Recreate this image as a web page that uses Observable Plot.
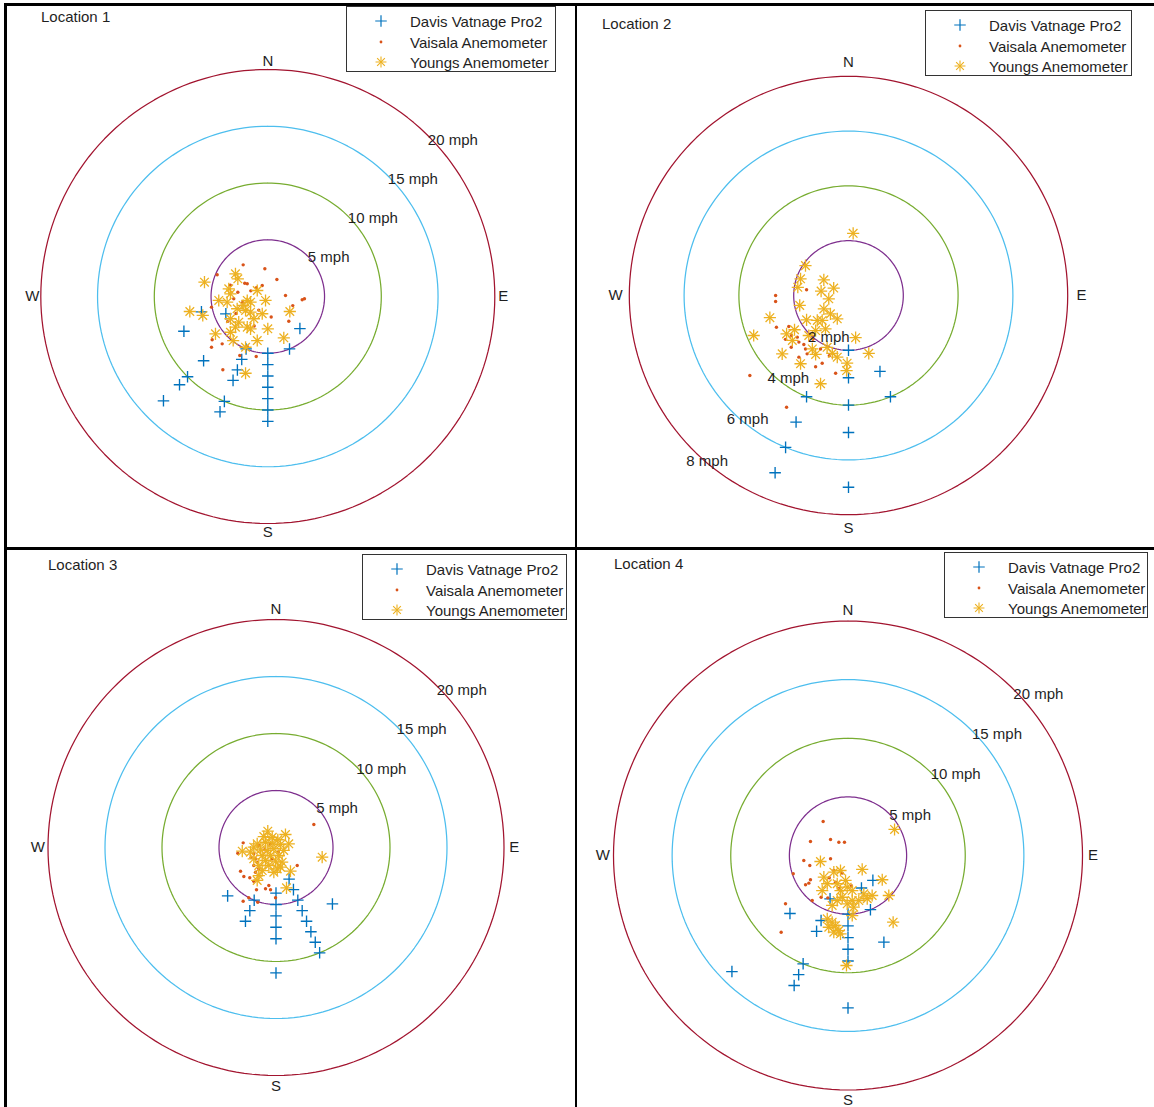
<!DOCTYPE html>
<html>
<head>
<meta charset="utf-8">
<script src="https://cdn.jsdelivr.net/npm/d3@7"></script>
<script src="https://cdn.jsdelivr.net/npm/@observablehq/plot@0.6"></script>
<style>
  body { margin: 0; background: #fff; font-family: "Liberation Sans", Arial, Helvetica, sans-serif; }
  #page { position: relative; width: 1154px; height: 1107px; overflow: hidden; background: #fff; }
  .rule { position: absolute; background: #000; }
  .panel { position: absolute; }
  .panel svg { display: block; }
  .title { position: absolute; font-size: 15px; color: #1f1f1f; line-height: 1; transform: translateY(-50%); white-space: nowrap; }
  .legend { position: absolute; border: 1px solid #333; background: #fff; box-sizing: border-box; }
  .legend .mk { position: absolute; width: 20px; height: 20px; transform: translate(-50%, -50%); }
  .legend .lt { position: absolute; font-size: 15px; color: #1f1f1f; line-height: 1; transform: translateY(-50%); white-space: nowrap; }
</style>
</head>
<body>
<div id="page"></div>
<script>
// ---------------- DATA ----------------
// Davis Vantage Pro2: [direction (deg from N), speed (mph)]
// Vaisala / Youngs: [east component (mph), north component (mph)]
const seriesNames = ["Davis Vatnage Pro2", "Vaisala Anemometer", "Youngs Anemometer"];
const panelTitles = ["Location 1", "Location 2", "Location 3", "Location 4"];
const ringsLoc1 = [5, 10, 15, 20];
const ringsLoc2 = [2, 4, 6, 8];
const ringsLoc3 = [5, 10, 15, 20];
const ringsLoc4 = [5, 10, 15, 20];
const compassLabels = ["N", "E", "S", "W"];

const loc1Davis = [[180,5],[180,6],[180,7],[180,8],[180,9],[180,10],[180,11],
  [202.5,5],[202.5,6],[202.5,7],[202.5,8],[202.5,10],[202.5,11],
  [225,8],[225,10],[225,11],[225,13],[247.5,4],[247.5,8],[257,6],[135,4],[157.5,5]];
const loc1Vaisala = [[-2.17,2.79],[-0.26,2.44],[-4.46,1.91],[-2.03,1.17],[-1.81,1.12],[-0.49,0.97],[-1.0,0.77],
  [1.56,0.09],[3.03,-0.29],[3.23,-0.2],[-2.64,0.38],[-4.96,-0.94],[-3.0,-0.2],[1.85,-2.18],[-3.52,-2.18],
  [-4.9,-3.81],[-4.02,-4.17],[-4.96,-4.47],[-2.47,-5.2],[-1.02,-5.29],[-3.96,-6.46],[-1.81,-4.41],
  [-1.5,0.5],[-2.2,-0.5],[-0.8,-1.2],[-2.8,-1.5],[0.3,-1.8],[-1.2,-2.6],[-3.3,1.0],[0.8,1.5],[2.2,-0.8]];
const loc1Youngs = [[-5.58,1.26],[-2.85,2.0],[-2.64,1.56],[-3.44,0.68],[-3.29,0.24],[-0.93,0.53],[-4.32,-0.35],
  [-3.58,-0.5],[-1.81,-0.35],[-1.52,-0.5],[-0.2,-0.35],[-2.17,-0.79],[-2.7,-1.08],[-1.96,-1.23],[-1.52,-1.38],
  [-6.87,-1.32],[-5.73,-1.67],[1.94,-1.32],[-0.49,-1.52],[-1.23,-1.96],[-3.29,-1.96],[-2.56,-2.26],[-2.85,-2.7],
  [-1.81,-2.7],[-1.52,-2.85],[0,-2.85],[-4.61,-3.29],[-3.29,-3.15],[-0.93,-3.88],[1.41,-3.64],[-3.05,-3.88],
  [-1.96,-4.47],[-1.96,-6.76]];

const loc2Davis = [[180,2],[180,3],[180,4],[180,5],[180,7],[157.5,3],[157.5,4],
  [202.5,4],[202.5,5],[202.5,6],[202.5,7]];
const loc2Vaisala = [[-1.53,0.21],[-2.66,0],[-2.66,-0.22],[-2.63,-1.16],[-2.18,-1.13],[-2.08,-1.46],[-1.87,-1.52],
  [-1.81,-1.7],[-1.63,-1.79],[-1.57,-1.95],[-2.09,-1.89],[-1.81,-2.25],[-1.51,-2.13],[-1.02,-1.95],[-0.96,-2.47],
  [-0.47,-2.84],[-3.6,-2.92],[-2.26,-4.08],[-1.3,-1.6],[-2.3,-1.6],[-1.2,-2.6],[-0.7,-2.2]];
const loc2Youngs = [[0.17,2.27],[-1.57,1.09],[-1.75,0.61],[-1.85,0.3],[-0.9,0.57],[-1.0,0.16],[-0.54,0.27],
  [-0.72,-0.12],[-1.78,-0.36],[-0.9,-0.49],[-0.66,-0.67],[-0.41,-0.85],[-0.96,-0.91],[-1.14,-0.91],[-2.87,-0.81],
  [-1.53,-0.89],[-3.46,-1.46],[-2.26,-1.4],[-1.97,-1.25],[-1.45,-1.46],[-1.2,-1.28],[-0.84,-1.22],[0.26,-1.54],
  [0.74,-2.11],[-2.42,-2.13],[-1.2,-2.15],[-0.59,-2.11],[-0.41,-2.25],[-1.75,-2.49],[-0.05,-2.47],[-0.07,-2.74],
  [-1.02,-3.22],[-2.05,-1.64],[-1.32,-1.95],[-0.78,-1.89]];

const loc3Davis = [[225,6],[202.5,5],[202.5,6],[202.5,7],[180,4],[180,5],[180,6],[180,7],[180,8],[180,11],
  [157.5,3],[157.5,4],[157.5,5],[157.5,6],[157.5,7],[157.5,8],[157.5,9],[157.5,10],[135,7]];
const loc3Vaisala = [[3.32,2.02],[-2.88,0.41],[-3.35,-0.5],[-2.18,-0.85],[-1.95,-0.55],[-1.8,-0.99],[-1.65,-1.29],
  [-1.95,-1.58],[-0.92,-1.14],[-1.51,-1.87],[-1.8,-2.17],[-3.11,-2.08],[-2.82,-2.54],[-2.3,-2.66],[-1.95,-2.96],
  [1.86,-1.58],[-1.71,-3.71],[-0.92,-3.62],[-0.63,-3.33],[-0.48,-3.71],[-0.04,-4.41],[-2.88,-4.71],[-1.6,-4.8],
  [-2.39,-4.41],[-1.0,-0.2],[-0.5,0.3],[-1.5,0.2],[0.2,-0.4],[-0.3,-1.0]];
const loc3Youngs = [[-0.72,1.43],[0.83,1.14],[0.16,0.68],[-1.65,0.32],[-0.92,0.46],[-0.33,0.38],[0.39,0.26],
  [-1.95,0.03],[-2.96,-0.32],[-1.36,-0.2],[-0.77,-0.26],[-0.19,-0.11],[0.68,-0.26],[-1.21,-0.7],[-0.48,-0.7],
  [0.25,-0.7],[-0.92,-1.14],[-0.04,-1.2],[0.54,-1.29],[-1.51,-1.58],[-0.63,-1.58],[0.11,-1.87],[1.27,-2.08],
  [-1.51,-2.46],[-1.65,-2.89],[0.92,-3.54],[4.05,-0.85],[-0.33,0.9],[-1.07,0.96],[1.12,0.32],[-2.24,-0.41],
  [-1.95,-0.99],[0.39,-1.73],[-0.19,-2.17],[-1.21,-2.02]];

const loc4Davis = [[135,3],[157.5,3],[157.5,5],[202.5,4],[225,7],[202.5,6],[202.5,7],
  [180,5],[180,6],[180,7],[180,8],[180,9],[180,13],[157.5,8],[202.5,10],[202.5,11],[202.5,12],[225,14]];
const loc4Vaisala = [[-2.12,2.9],[-3.2,1.19],[-1.49,1.36],[-0.78,1.13],[-0.3,1.13],[-3.77,-0.43],[-3.26,-0.85],
  [-1.49,-0.28],[-1.21,-1.28],[-3.2,-2.07],[-3.62,-2.5],[-3.34,-2.36],[-4.67,-1.56],[-2.29,-3.56],[-1.72,-3.61],
  [-5.33,-4.12],[-5.7,-6.54],[-3.05,-3.84],[-1.07,-2.28],[-0.8,-2.8],[-1.6,-1.9],[-0.5,-1.5],[0.3,-2.6]];
const loc4Youngs = [[3.97,2.22],[-2.35,-0.51],[1.21,-1.19],[2.92,-2.07],[-0.64,-1.28],[-1.21,-1.42],[-2.06,-1.85],
  [-0.21,-2.13],[-1.77,-2.41],[-0.92,-2.41],[-0.07,-2.7],[-2.2,-2.99],[-0.64,-2.99],[0.36,-2.99],[1.35,-3.27],
  [2.06,-3.41],[3.48,-3.41],[-0.49,-3.56],[0.36,-3.84],[0.92,-3.84],[1.64,-3.69],[-0.92,-3.84],[-0.07,-4.12],
  [0.49,-4.41],[-1.35,-4.26],[-1.77,-5.4],[-1.35,-5.69],[-1.07,-5.97],[-1.64,-6.12],[-0.78,-6.4],[-0.64,-6.68],
  [-1.21,-6.54],[0.36,-5.12],[3.85,-5.69],[-0.13,-9.38]];

// ---------------- STYLE / LAYOUT ----------------
const BLUE = "#0072BD", ORANGE = "#D95319", YELLOW = "#EDB120";
const RING_COLORS = ["#7E2F8E", "#77AC30", "#4DBEEE", "#A2142F"];
const TEXT = "#1f1f1f";
const FONT = '"Liberation Sans", Arial, Helvetica, sans-serif';

const panels = [
  { title: panelTitles[0], davis: loc1Davis, vaisala: loc1Vaisala, youngs: loc1Youngs, rings: ringsLoc1,
    cell: {left: 6, top: 5, width: 569, height: 542}, cx: 267.3, cy: 296, s: 11.35,
    lab: [0.705, 0.69], compassR: 20.75,
    titlePos: [41, 16], legend: {left: 346, top: 6, width: 210, height: 66} },
  { title: panelTitles[1], davis: loc2Davis, vaisala: loc2Vaisala, youngs: loc2Youngs, rings: ringsLoc2,
    cell: {left: 578, top: 5, width: 576, height: 542}, cx: 848, cy: 295, s: 27.4,
    lab: [-0.74, -0.754], compassR: 8.5,
    titlePos: [602, 23], legend: {left: 925, top: 10, width: 207, height: 66} },
  { title: panelTitles[2], davis: loc3Davis, vaisala: loc3Vaisala, youngs: loc3Youngs, rings: ringsLoc3,
    cell: {left: 6, top: 550, width: 569, height: 557}, cx: 275.5, cy: 847, s: 11.4,
    lab: [0.705, 0.69], compassR: 20.9,
    titlePos: [48, 564], legend: {left: 362, top: 554, width: 205, height: 66} },
  { title: panelTitles[3], davis: loc4Davis, vaisala: loc4Vaisala, youngs: loc4Youngs, rings: ringsLoc4,
    cell: {left: 578, top: 550, width: 576, height: 557}, cx: 847.5, cy: 855, s: 11.725,
    lab: [0.705, 0.69], compassR: 20.9,
    titlePos: [614, 563], legend: {left: 944, top: 552, width: 204, height: 66} }
];

const page = document.getElementById("page");

function davisXY(list) {
  return list.map(([dir, spd]) => {
    const a = dir * Math.PI / 180;
    return {x: spd * Math.sin(a), y: spd * Math.cos(a)};
  });
}
function uvXY(list) { return list.map(([u, v]) => ({x: u, y: v})); }

const R_PLUS = 3.8, R_STAR = 4.0, R_DOT = 1.7;
const SW_PLUS = 1.35, SW_STAR = 1.3;

function drawPanel(p) {
  const c = p.cell;
  const xDom = [(c.left - p.cx) / p.s, (c.left + c.width - p.cx) / p.s];
  const yDom = [(p.cy - (c.top + c.height)) / p.s, (p.cy - c.top) / p.s];
  const ringMarks = p.rings.map((r, i) => Plot.line(
    d3.range(0, 361, 2).map(a => ({x: r * Math.sin(a * Math.PI / 180), y: r * Math.cos(a * Math.PI / 180)})),
    {x: "x", y: "y", stroke: RING_COLORS[i], strokeWidth: 1.25}));
  const ringLabels = p.rings.map(r => ({x: p.lab[0] * r, y: p.lab[1] * r, t: `${r} mph`}));
  const R = p.compassR;
  const compass = [{x: 0, y: R}, {x: R, y: 0}, {x: 0, y: -R}, {x: -R, y: 0}]
    .map((d, i) => ({...d, t: compassLabels[i]}));
  const davis = davisXY(p.davis), vaisala = uvXY(p.vaisala), youngs = uvXY(p.youngs);

  const chart = Plot.plot({
    width: c.width, height: c.height, margin: 0,
    x: {domain: xDom, axis: null},
    y: {domain: yDom, axis: null},
    style: {background: "transparent", overflow: "visible"},
    marks: [
      ...ringMarks,
      Plot.dot(davis, {x: "x", y: "y", symbol: "plus", r: R_PLUS, stroke: BLUE, strokeWidth: SW_PLUS}),
      Plot.dot(vaisala, {x: "x", y: "y", r: R_DOT, fill: ORANGE, stroke: "none"}),
      Plot.dot(youngs, {x: "x", y: "y", symbol: "plus", r: R_STAR, stroke: YELLOW, strokeWidth: SW_STAR}),
      Plot.dot(youngs, {x: "x", y: "y", symbol: "times", r: R_STAR, stroke: YELLOW, strokeWidth: SW_STAR}),
      Plot.text(ringLabels, {x: "x", y: "y", text: "t", textAnchor: "start", lineAnchor: "middle",
        fontSize: 15, fontFamily: FONT, fill: TEXT}),
      Plot.text(compass, {x: "x", y: "y", text: "t", textAnchor: "middle", lineAnchor: "middle",
        fontSize: 15, fontFamily: FONT, fill: TEXT})
    ]
  });
  const holder = document.createElement("div");
  holder.className = "panel";
  holder.style.left = c.left + "px";
  holder.style.top = c.top + "px";
  holder.appendChild(chart);
  page.appendChild(holder);

  const t = document.createElement("div");
  t.className = "title";
  t.textContent = p.title;
  t.style.left = p.titlePos[0] + "px";
  t.style.top = p.titlePos[1] + "px";
  page.appendChild(t);

  drawLegend(p.legend);
}

function markerSvg(kind) {
  const svg = d3.create("svg").attr("class", "mk").attr("viewBox", "-10 -10 20 20");
  if (kind === 0) {
    svg.append("path").attr("d", d3.symbol(d3.symbolPlus, Math.PI * R_PLUS * R_PLUS)())
      .attr("fill", "none").attr("stroke", BLUE).attr("stroke-width", 1.2);
  } else if (kind === 1) {
    svg.append("circle").attr("r", 1.4).attr("fill", ORANGE);
  } else {
    svg.append("path").attr("d", d3.symbol(d3.symbolPlus, Math.PI * 3.6 * 3.6)())
      .attr("fill", "none").attr("stroke", YELLOW).attr("stroke-width", 1.1);
    svg.append("path").attr("d", d3.symbol(d3.symbolTimes, Math.PI * 3.6 * 3.6)())
      .attr("fill", "none").attr("stroke", YELLOW).attr("stroke-width", 1.1);
  }
  return svg.node();
}

function drawLegend(L) {
  const box = document.createElement("div");
  box.className = "legend";
  box.style.left = L.left + "px";
  box.style.top = L.top + "px";
  box.style.width = L.width + "px";
  box.style.height = L.height + "px";
  const rowY = [14, 34.5, 55];
  seriesNames.forEach((name, i) => {
    const m = markerSvg(i);
    m.style.left = "34px";
    m.style.top = rowY[i] + "px";
    box.appendChild(m);
    const tx = document.createElement("div");
    tx.className = "lt";
    tx.textContent = name;
    tx.style.left = "63px";
    tx.style.top = rowY[i] + "px";
    box.appendChild(tx);
  });
  page.appendChild(box);
}

function rule(left, top, width, height) {
  const r = document.createElement("div");
  r.className = "rule";
  Object.assign(r.style, {left: left + "px", top: top + "px", width: width + "px", height: height + "px"});
  page.appendChild(r);
}

panels.forEach(drawPanel);
rule(4, 3, 1150, 2.5);      // top
rule(4, 3, 2.5, 1104);      // left
rule(574.8, 3, 2.6, 1104);  // middle vertical
rule(4, 547, 1150, 2.6);    // middle horizontal
</script>
</body>
</html>
